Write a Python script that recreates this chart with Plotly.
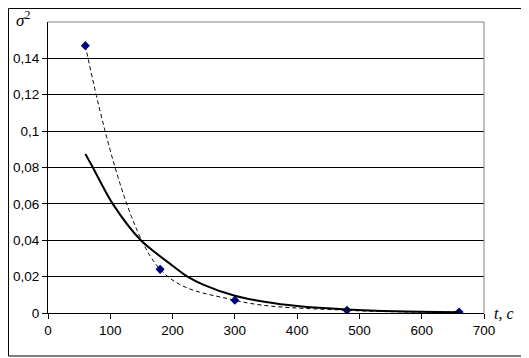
import plotly.graph_objects as go

# measured points
t_points = [60, 180, 300, 480, 660]
sigma2_points = [0.147, 0.024, 0.007, 0.0015, 0.0005]

# trend line
t_trend = [60, 72, 104, 149, 200, 224, 250, 300, 350, 400, 480, 560, 660]
sigma2_trend = [0.0875, 0.080, 0.060, 0.040, 0.026, 0.020, 0.0155, 0.0095, 0.0060, 0.0038, 0.0019, 0.0009, 0.0004]

x_ticks = [0, 100, 200, 300, 400, 500, 600, 700]
y_ticks = [0, 0.02, 0.04, 0.06, 0.08, 0.10, 0.12, 0.14]
y_tick_text = ["0", "0,02", "0,04", "0,06", "0,08", "0,1", "0,12", "0,14"]

fig = go.Figure()
fig.add_trace(go.Scatter(
    x=t_points, y=sigma2_points, mode="lines+markers",
    line=dict(color="black", width=1, dash="4px,3px", shape="spline", smoothing=1.0),
    marker=dict(symbol="diamond", size=7, color="#000080"),
    showlegend=False, hoverinfo="skip"))
fig.add_trace(go.Scatter(
    x=t_trend, y=sigma2_trend, mode="lines",
    line=dict(color="black", width=2, shape="spline", smoothing=0.8),
    showlegend=False, hoverinfo="skip"))

font = dict(family="Liberation Sans, Arial, sans-serif", size=13.5, color="black")
fig.update_layout(
    template="none",
    width=521, height=350,
    margin=dict(l=40, r=45, t=14, b=45, autoexpand=False),
    paper_bgcolor="white", plot_bgcolor="white",
    font=font,
    xaxis=dict(range=[0, 700], tickvals=x_ticks, showgrid=False, zeroline=False,
               automargin=False,
               showline=True, linecolor="black", linewidth=1,
               ticks="outside", ticklen=5, tickcolor="black", tickfont=font),
    yaxis=dict(range=[0, 0.16], tickvals=y_ticks, ticktext=y_tick_text,
               automargin=False,
               showgrid=True, gridcolor="black", gridwidth=1, zeroline=False,
               showline=True, linecolor="black", linewidth=1,
               ticks="outside", ticklen=5, tickcolor="black", tickfont=font),
    shapes=[
        dict(type="line", xref="paper", yref="paper", x0=0, x1=1, y0=1, y1=1,
             line=dict(color="#808080", width=1)),
        dict(type="line", xref="paper", yref="paper", x0=1, x1=1, y0=0, y1=1,
             line=dict(color="#808080", width=1)),
        dict(type="rect", xref="paper", yref="paper", x0=-0.0906, x1=1.0872,
             y0=-0.1478, y1=1.0464, line=dict(color="black", width=1)),
    ],
    annotations=[
        dict(text="<i>σ</i><sup>2</sup>", xref="paper", yref="paper",
             x=-0.078, y=1.012, xanchor="left", yanchor="middle", showarrow=False,
             font=dict(family="Liberation Serif, Times New Roman, serif", size=17, color="black")),
        dict(text="<i>t</i>, <i>с</i>", xref="paper", yref="paper",
             x=1.018, y=0.0, xanchor="left", yanchor="middle", showarrow=False,
             font=dict(family="Liberation Serif, Times New Roman, serif", size=16, color="black")),
    ],
)

fig.write_html("out.html")
